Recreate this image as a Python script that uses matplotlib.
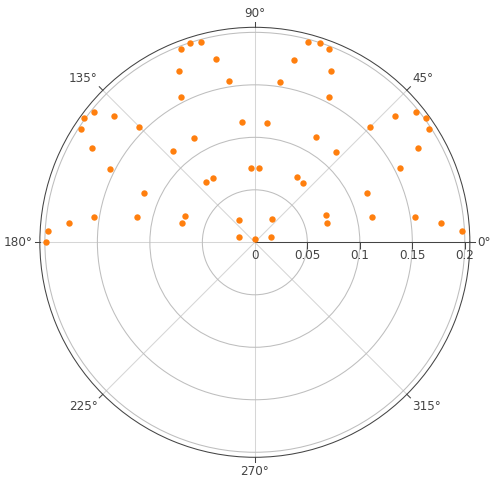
import numpy as np
import matplotlib
matplotlib.use("Agg")
import matplotlib.pyplot as plt
from matplotlib.transforms import ScaledTranslation

# Data (theta in degrees, r)
theta_deg = [3, 6, 9, 12, 15, 18, 21, 24, 27, 30,
             33, 36, 39, 42, 45, 48, 51, 54, 57, 60,
             63, 66, 69, 72, 75, 78, 81, 84, 87, 90,
             93, 96, 99, 102, 105, 108, 111, 114, 117, 120,
             123, 126, 129, 132, 135, 138, 141, 144, 147, 150,
             153, 156, 159, 162, 165, 168, 171, 174, 177, 180]
r_values = [0.1973, 0.1780, 0.1547, 0.1140, 0.0715, 0.0162, 0.0723, 0.1165, 0.1555, 0.1799,
            0.1977, 0.2010, 0.1976, 0.1797, 0.1548, 0.1160, 0.0727, 0.0270, 0.0736, 0.1158,
            0.1556, 0.1790, 0.1975, 0.1996, 0.1974, 0.1778, 0.1548, 0.1142, 0.0706, 0.0030,
            0.0711, 0.1150, 0.1555, 0.1785, 0.1978, 0.1999, 0.1976, 0.1785, 0.1550, 0.1150,
            0.0730, 0.0262, 0.0741, 0.1168, 0.1559, 0.1800, 0.1976, 0.2010, 0.1975, 0.1795,
            0.1548, 0.1156, 0.0712, 0.0162, 0.0718, 0.1150, 0.1554, 0.1783, 0.1976, 0.1992]

radial_ticks = [0, 0.05, 0.1, 0.15, 0.2]
radial_labels = ["0", "0.05", "0.1", "0.15", "0.2"]
angular_ticks = [0, 45, 90, 135, 180, 225, 270, 315]
angular_labels = ["0°", "45°", "90°", "135°", "180°", "225°", "270°", "315°"]
r_max = 0.2048

plt.rcParams['font.family'] = ['DejaVu Sans']
TXT = '#444444'
FS = 8.64
LW = 0.75

W, H = 493, 484
fig = plt.figure(figsize=(W / 100, H / 100), dpi=100)
cx, cy, R = 254.85, 484 - 242.3, 215.0
ax = fig.add_axes([(cx - R) / W, (cy - R) / H, 2 * R / W, 2 * R / H], projection='polar')
ax.set_facecolor('white')
ax.set_ylim(0, r_max)

ax.set_xticks(np.deg2rad(angular_ticks))
ax.set_xticklabels([''] * len(angular_ticks))
ax.set_yticks(radial_ticks[1:])
ax.set_yticklabels([])
ax.xaxis.grid(True, color='#d6d6d6', lw=LW)
ax.yaxis.grid(True, color='#bebebe', lw=LW)
ax.tick_params(axis='both', length=0)
ax.spines['polar'].set_color(TXT)
ax.spines['polar'].set_linewidth(LW)
ax.set_axisbelow(True)

# angular tick marks (outside)
tick_len = 5.0 / R * r_max
for a in angular_ticks:
    t = np.deg2rad(a)
    ax.plot([t, t], [r_max, r_max + tick_len], color=TXT, lw=LW, clip_on=False, zorder=2)

# radial axis line and ticks
ax.plot([0, 0], [0, r_max], color=TXT, lw=LW, zorder=2, clip_on=False)
ax.plot(np.zeros(len(radial_ticks) - 1), radial_ticks[1:], ls='none', marker=3,
        ms=5, mew=LW, color=TXT, zorder=2, clip_on=False)
for rv, lab in zip(radial_ticks, radial_labels):
    off = ScaledTranslation(0, -7 / 100, fig.dpi_scale_trans)
    ax.text(0, rv, lab, transform=ax.transData + off, ha='center', va='top',
            fontsize=FS, color=TXT)

# angular labels
align = {0: ('left', 'center'), 45: ('left', 'bottom'), 90: ('center', 'bottom'),
         135: ('right', 'bottom'), 180: ('right', 'center'), 225: ('right', 'top'),
         270: ('center', 'top'), 315: ('left', 'top')}
for a, lab in zip(angular_ticks, angular_labels):
    d = 7.5
    dx = d * np.cos(np.deg2rad(a)) / 100
    dy = d * np.sin(np.deg2rad(a)) / 100
    off = ScaledTranslation(dx, dy, fig.dpi_scale_trans)
    ha, va = align[a]
    ax.text(np.deg2rad(a), r_max, lab, transform=ax.transData + off, ha=ha, va=va,
            fontsize=FS, color=TXT)

ax.plot(np.deg2rad(theta_deg), r_values, ls='none', marker='o', ms=4.6,
        color='#ff7f0e', mec='none', zorder=3, clip_on=False)

fig.savefig('out.png', dpi=100, facecolor='white')
